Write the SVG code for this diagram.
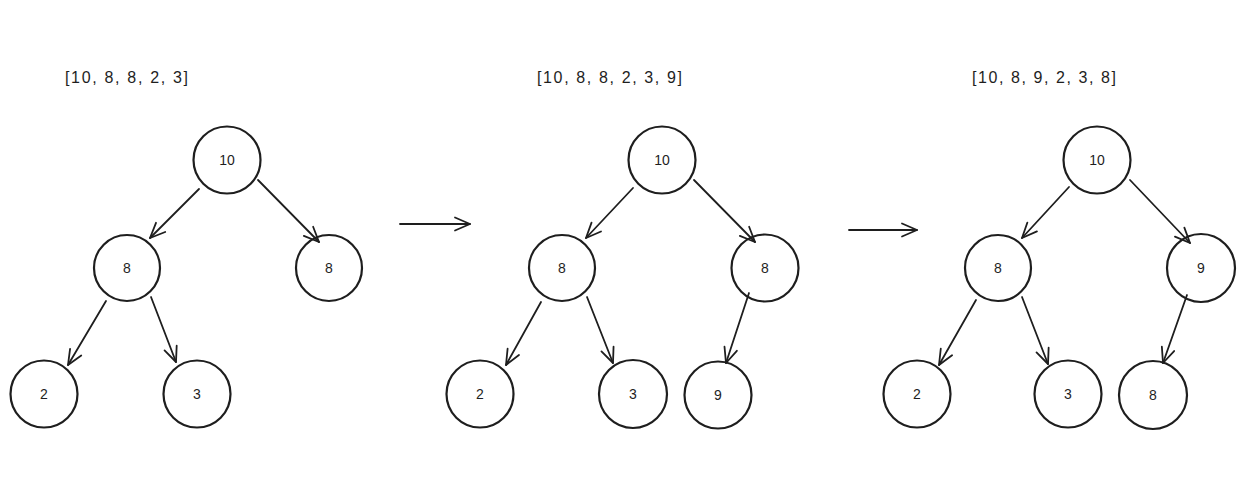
<svg xmlns="http://www.w3.org/2000/svg" width="1258" height="492" viewBox="0 0 1258 492">
<defs>
<marker id="ah" markerUnits="userSpaceOnUse" markerWidth="30" markerHeight="30" refX="0" refY="0" viewBox="-20 -15 30 30" orient="auto" overflow="visible">
<path d="M-15,-6.5 L0,0 L-15,6.5" fill="none" stroke="#1e1e1e" stroke-width="1.8" stroke-linecap="round" stroke-linejoin="round"/>
</marker>
<style>
.n circle{fill:none;stroke:#1e1e1e;stroke-width:2.2}
.n text,.lbl{font-family:"Liberation Sans",Arial,sans-serif;font-size:14px;fill:#1e1e1e;text-anchor:middle;dominant-baseline:central}
.lbl{font-size:16px;text-anchor:start}
.c line{stroke:#1e1e1e;stroke-width:1.8;stroke-linecap:round;marker-end:url(#ah)}
</style>
</defs>
<rect width="1258" height="492" fill="#ffffff"/>

<text class="lbl" x="65" y="77" textLength="123" lengthAdjust="spacing">[10, 8, 8, 2, 3]</text>
<text class="lbl" x="537" y="77" textLength="145" lengthAdjust="spacing">[10, 8, 8, 2, 3, 9]</text>
<text class="lbl" x="972" y="77" textLength="144" lengthAdjust="spacing">[10, 8, 9, 2, 3, 8]</text>

<g id="a10" class="n"><circle cx="227" cy="160" r="33.5"/><text x="227" y="160">10</text></g>
<g id="a8l" class="n"><circle cx="127" cy="268" r="33"/><text x="127" y="268">8</text></g>
<g id="a8r" class="n"><circle cx="329" cy="268" r="33"/><text x="329" y="268">8</text></g>
<g id="a2" class="n"><circle cx="44" cy="394" r="33.5"/><text x="44" y="394">2</text></g>
<g id="a3" class="n"><circle cx="197" cy="394" r="33.5"/><text x="197" y="394">3</text></g>

<g id="b10" class="n"><circle cx="662" cy="160" r="33.5"/><text x="662" y="160">10</text></g>
<g id="b8l" class="n"><circle cx="562" cy="268" r="33"/><text x="562" y="268">8</text></g>
<g id="b8r" class="n"><circle cx="765" cy="268" r="33.5"/><text x="765" y="268">8</text></g>
<g id="b2" class="n"><circle cx="480" cy="394" r="33.5"/><text x="480" y="394">2</text></g>
<g id="b3" class="n"><circle cx="633" cy="394" r="34"/><text x="633" y="394">3</text></g>
<g id="b9" class="n"><circle cx="718" cy="395" r="33.5"/><text x="718" y="395">9</text></g>

<g id="c10" class="n"><circle cx="1097" cy="160" r="33.5"/><text x="1097" y="160">10</text></g>
<g id="c8l" class="n"><circle cx="998" cy="268" r="33"/><text x="998" y="268">8</text></g>
<g id="c9r" class="n"><circle cx="1201" cy="268" r="34"/><text x="1201" y="268">9</text></g>
<g id="c2" class="n"><circle cx="917" cy="394" r="33.5"/><text x="917" y="394">2</text></g>
<g id="c3" class="n"><circle cx="1068" cy="394" r="33.5"/><text x="1068" y="394">3</text></g>
<g id="c8" class="n"><circle cx="1153" cy="395" r="34"/><text x="1153" y="395">8</text></g>

<g id="connectors" class="c">
<line x1="199" y1="189" x2="150" y2="238"/>
<line x1="258" y1="180" x2="319" y2="242"/>
<line x1="106" y1="301" x2="68" y2="365"/>
<line x1="151" y1="297" x2="176" y2="362"/>

<line x1="400" y1="224" x2="470" y2="224"/>

<line x1="633" y1="188" x2="586" y2="238"/>
<line x1="694" y1="180" x2="755" y2="242"/>
<line x1="541" y1="302" x2="506" y2="365"/>
<line x1="587" y1="297" x2="613" y2="363"/>
<line x1="749" y1="293" x2="726" y2="363"/>

<line x1="849" y1="230" x2="917" y2="230"/>

<line x1="1069" y1="187" x2="1022" y2="238"/>
<line x1="1130" y1="180" x2="1190" y2="243"/>
<line x1="976" y1="300" x2="939" y2="365"/>
<line x1="1022" y1="297" x2="1048" y2="364"/>
<line x1="1187" y1="295" x2="1163" y2="363"/>
</g>
</svg>
